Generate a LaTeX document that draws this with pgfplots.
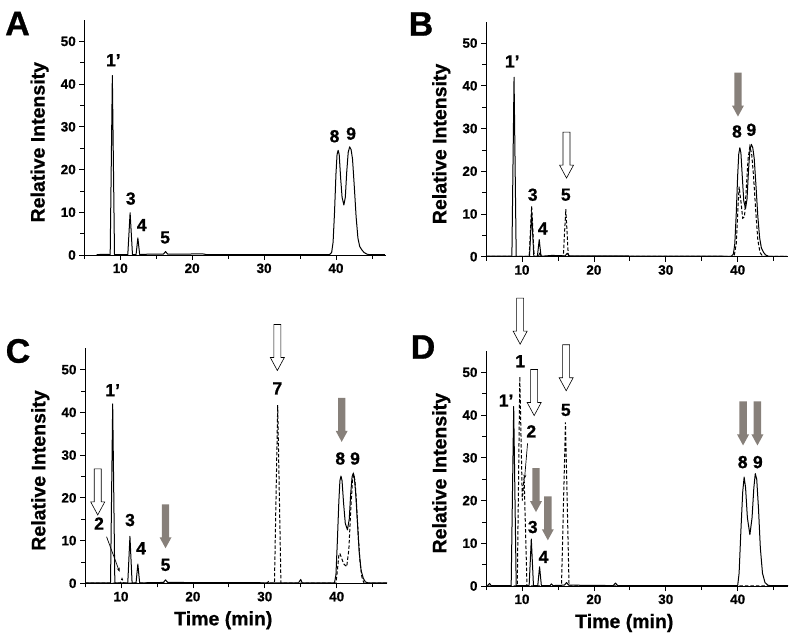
\documentclass[border=0pt]{standalone}
\usepackage{fontspec}
\setmainfont[BoldFeatures={FakeBold=0.8}]{Liberation Sans}
\usepackage{pgfplots}
\pgfplotsset{compat=1.18}
\usetikzlibrary{arrows.meta}
\definecolor{arrowgray}{RGB}{135,128,122}
\newcommand{\openarrow}[2]{\draw[black, line width=0.6pt, fill=white, line join=miter] (axis cs:#1,#2) -- ++(-7pt,13pt) -- ++(3.5pt,0pt) -- ++(0pt,33pt) -- ++(7pt,0pt) -- ++(0pt,-33pt) -- ++(3.5pt,0pt) -- cycle;}
\newcommand{\grayarrow}[2]{\fill[arrowgray] (axis cs:#1,#2) -- ++(-6pt,11pt) -- ++(2.3pt,0pt) -- ++(0pt,33pt) -- ++(7.4pt,0pt) -- ++(0pt,-33pt) -- ++(2.3pt,0pt) -- cycle;}
\newcommand{\pk}[3]{\node[font=\fontsize{17.5}{17.5}\selectfont\bfseries] at (axis cs:#1,#2) {#3};}
\pgfplotsset{
  panel/.style={
    scale only axis, width=302pt, height=235pt,
    anchor=south west,
    xmin=5, xmax=47, ymin=0, ymax=55,
    axis lines=left, axis line style={-, line width=0.8pt},
    clip=false,
    xtick={10,20,30,40}, ytick={0,10,20,30,40,50},
    minor xtick={5,15,25,35,45}, minor ytick={5,15,25,35,45},
    tick align=outside,
    major tick length=5pt, minor tick length=4pt,
    every tick/.style={black, line width=0.7pt},
    tick label style={font=\fontsize{13.5}{13.5}\selectfont\bfseries},
    /pgf/number format/assume math mode=true,
    ylabel={Relative Intensity},
    ylabel style={at={(axis description cs:-0.148,0.48)}, anchor=center, font=\fontsize{19.5}{19.5}\selectfont\bfseries},
    xlabel style={at={(axis description cs:0.458,0)}, anchor=center, yshift=-37pt, font=\fontsize{19.5}{19.5}\selectfont\bfseries},
  },
  sol/.style={black, line width=1pt, line join=round},
  dsh/.style={black, line width=1pt, dash pattern=on 3.5pt off 2pt},
}
\begin{document}
\begin{tikzpicture}
\path[use as bounding box] (0,0) rectangle (800pt,643pt);
\node[font=\fontsize{34}{34}\selectfont\bfseries] at (17.5pt,619.5pt) {A};
\node[font=\fontsize{34}{34}\selectfont\bfseries] at (421pt,619pt) {B};
\node[font=\fontsize{34}{34}\selectfont\bfseries] at (18pt,292pt) {C};
\node[font=\fontsize{34}{34}\selectfont\bfseries] at (423pt,296pt) {D};

% ---------------- A ----------------
\begin{axis}[panel, at={(84.3pt,388pt)}]
\addplot[sol] coordinates {
(6.7,0.1) (8.0,0.15) (8.6,0.1) (8.9,42) (9.2,0.1) (11.05,0.1) (11.37,9.9) (11.7,0.1)
(12.2,0.1) (12.45,4) (12.7,0.1) (14,0.2) (16.0,0.2) (16.3,0.8) (16.6,0.2) (21.5,0.25) (22,0.1)
(39.1,0.1) (39.4,0.6) (39.6,3) (39.8,10) (40.0,19) (40.15,23.5) (40.3,24.5) (40.45,23.5)
(40.65,18) (40.85,13.5) (41.1,11.7) (41.3,13.5) (41.5,19.5) (41.7,24) (41.9,25.3) (42.1,24.7)
(42.3,22.5) (42.55,16) (42.8,9) (43.05,4) (43.3,2) (43.6,1.2) (43.9,0.6) (44.3,0.2) (44.6,0.1) (46.8,0.1)};
\pk{9.04}{45.6}{1’}
\pk{11.46}{13.2}{3}
\pk{13.0}{7.0}{4}
\pk{16.24}{4.1}{5}
\pk{39.8}{27.8}{8}
\pk{42.1}{28.4}{9}
\end{axis}

% ---------------- B ----------------
\begin{axis}[panel, at={(486pt,386.3pt)}]
\addplot[sol] coordinates {
(5,0.1) (7,0.15) (8.6,0.1) (8.9,42) (9.2,0.1) (11.05,0.1) (11.35,10.3) (11.65,0.1)
(12.15,0.1) (12.4,4) (12.65,0.1) (14.2,0.3) (16.0,0.2) (16.3,0.8) (16.6,0.2)
(39.1,0.1) (39.4,0.6) (39.6,3) (39.8,10) (40.0,19) (40.15,24) (40.3,25.5) (40.45,24.3)
(40.65,18.5) (40.85,13) (41.1,11.3) (41.3,13.5) (41.5,20) (41.7,25) (41.9,26.3) (42.1,25.5)
(42.3,23) (42.55,16.5) (42.8,9.5) (43.05,4.5) (43.3,2) (43.6,1) (43.9,0.4) (44.3,0.1) (46.8,0.1)};
\addplot[dsh] coordinates {
(5,0.05) (11.0,0.05) (11.35,11.8) (11.7,0.05) (12.3,0.05) (12.5,1.0) (12.7,0.05)
(15.75,0.05) (16.1,11.1) (16.45,0.05) (39.5,0.05) (39.8,3) (40.0,10) (40.2,16.4)
(40.45,13) (40.7,9) (40.95,9.3) (41.2,16) (41.45,23) (41.7,25.8) (41.95,24) (42.2,19)
(42.5,11) (42.8,4) (43.1,1) (43.5,0.05) (46.8,0.05)};
\pk{8.65}{45.7}{1’}
\pk{11.5}{14.5}{3}
\pk{12.9}{6.6}{4}
\pk{16.1}{14.5}{5}
\pk{39.9}{29.3}{8}
\pk{41.9}{29.7}{9}
\grayarrow{40.04}{32.8}
\openarrow{16.2}{18.4}
\end{axis}

% ---------------- C ----------------
\begin{axis}[panel, at={(85pt,59.7pt)}, xlabel={Time (min)}]
\addplot[sol] coordinates {
(5,0.1) (8.55,0.1) (8.85,42) (9.15,0.1) (10.95,0.1) (11.25,11) (11.55,0.1)
(12.1,0.1) (12.35,4.5) (12.6,0.1) (15.9,0.2) (16.2,0.8) (16.5,0.2) (34.7,0.1) (35.0,0.9) (35.2,0.1)
(39.7,0.1) (39.9,2) (40.1,10) (40.3,19) (40.45,24) (40.6,25.1) (40.75,24) (40.95,19)
(41.2,14) (41.5,12.5) (41.75,15) (41.95,21) (42.15,25) (42.3,25.7) (42.45,25) (42.65,21)
(42.9,14) (43.15,7) (43.4,3) (43.7,1.2) (44.0,0.3) (44.4,0.1) (47,0.1)};
\addplot[dsh] coordinates {
(5,0.05) (9.9,0.05) (10.15,1.1) (10.4,0.05) (30.3,0.05) (30.5,0.4) (30.7,0.05)
(31.35,0.05) (31.8,41.7) (32.25,0.05) (39.9,0.05) (40.1,3) (40.3,6.5) (40.45,7.0)
(40.65,6) (41.0,4.5) (41.4,3.9) (41.7,8) (41.95,17) (42.2,24) (42.35,25.5) (42.55,24)
(42.75,19) (43.0,11) (43.25,5) (43.5,1.5) (43.8,0.05) (47,0.05)};
\pk{6.95}{14}{2}
\pk{8.85}{45.2}{1’}
\pk{11.26}{14.8}{3}
\pk{12.8}{8.2}{4}
\pk{16.2}{4.3}{5}
\pk{31.75}{45.6}{7}
\pk{40.5}{29.2}{8}
\pk{42.55}{29.2}{9}
\draw[line width=0.7pt, -{Stealth[length=4pt,width=3pt]}] (axis cs:8.0,10.9) -- (axis cs:9.8,2.7);
\openarrow{6.77}{16.0}
\grayarrow{16.2}{8.2}
\openarrow{31.75}{49.8}
\grayarrow{40.7}{33.1}
\end{axis}

% ---------------- D ----------------
\begin{axis}[panel, at={(486pt,57pt)}, xlabel={Time (min)}]
\addplot[sol] coordinates {
(5.2,0.1) (5.5,0.6) (5.7,0.1) (8.5,0.1) (8.85,42) (9.2,0.1) (11.0,0.1) (11.3,11) (11.6,0.1)
(12.2,0.1) (12.45,4.5) (12.7,0.1) (13.9,0.1) (14.1,0.5) (14.3,0.1) (15.9,0.2) (16.2,0.8) (16.5,0.2)
(22.7,0.1) (23.0,0.7) (23.3,0.1) (40.0,0.1) (40.2,3) (40.45,13) (40.7,22) (40.9,25.5)
(41.1,23) (41.35,16) (41.7,12) (42.0,16) (42.25,23) (42.45,26.3) (42.65,25) (42.9,18)
(43.15,9) (43.45,3) (43.8,0.8) (44.2,0.2) (44.5,0.1) (47,0.1)};
\addplot[dsh] coordinates {
(5,0.05) (9.35,0.05) (9.7,49) (10.05,20) (10.3,25.5) (10.7,0.05)
(15.5,0.05) (16.05,38.3) (16.55,0.05) (47,0.05)};
\pk{9.75}{52.6}{1}
\pk{7.8}{43.4}{1’}
\pk{11.3}{36.2}{2}
\pk{16.1}{41.2}{5}
\pk{11.5}{13.8}{3}
\pk{13.0}{6.8}{4}
\pk{40.7}{29}{8}
\pk{42.8}{29}{9}
\draw[line width=0.7pt, -{Stealth[length=4pt,width=3pt]}] (axis cs:10.78,33.4) -- (axis cs:10.36,25.1);
\openarrow{9.75}{56.6}
\openarrow{11.7}{39.9}
\openarrow{16.15}{45.7}
\grayarrow{11.95}{17.3}
\grayarrow{13.6}{10.7}
\grayarrow{40.75}{32.9}
\grayarrow{42.75}{32.9}
\end{axis}
\end{tikzpicture}
\end{document}
